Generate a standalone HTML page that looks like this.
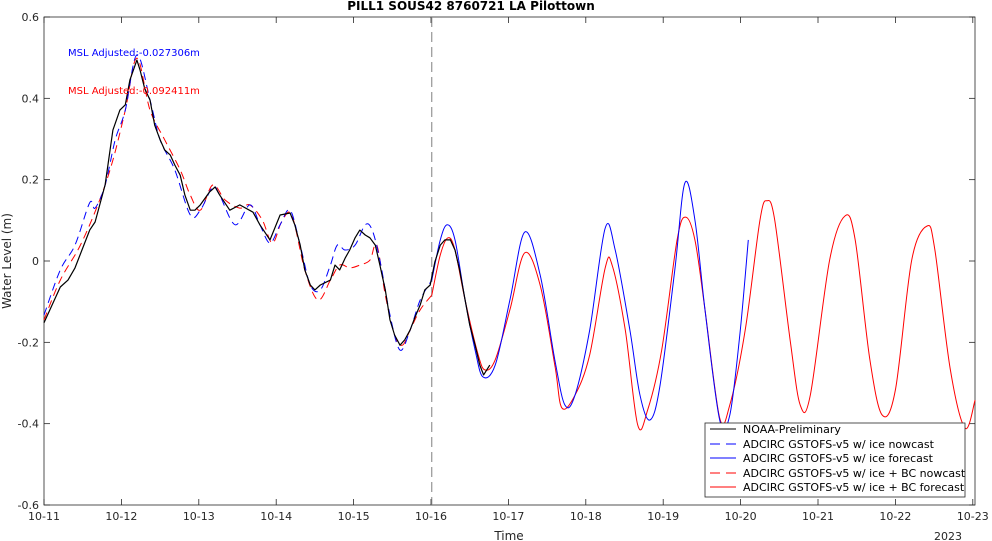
<!DOCTYPE html>
<html><head><meta charset="utf-8"><style>
body{margin:0;background:#fff;}
svg{display:block;font-family:"Liberation Sans","DejaVu Sans",sans-serif;}
</style></head><body>
<svg id="chart" width="992" height="541" viewBox="0 0 992 541" xmlns="http://www.w3.org/2000/svg">
<rect x="0" y="0" width="992" height="541" fill="#fff"/>
<text x="471" y="10" text-anchor="middle" font-size="12" font-weight="bold" font-family="DejaVu Sans, sans-serif">PILL1 SOUS42 8760721 LA Pilottown</text>
<g id="axes"></g>
<g id="series"></g>
<text x="68" y="56" font-size="10" fill="#0000ff" font-family="DejaVu Sans, sans-serif">MSL Adjusted:-0.027306m</text>
<text x="68" y="94" font-size="10" fill="#ff0000" font-family="DejaVu Sans, sans-serif">MSL Adjusted:-0.092411m</text>
<text transform="translate(11,261) rotate(-90)" text-anchor="middle" font-size="12" fill="#262626" font-family="DejaVu Sans, sans-serif">Water Level (m)</text>
<text x="509" y="540" text-anchor="middle" font-size="12" fill="#262626" font-family="DejaVu Sans, sans-serif">Time</text>
<text x="948" y="540" text-anchor="middle" font-size="11" fill="#262626" font-family="DejaVu Sans, sans-serif">2023</text>
<g>
<rect x="705" y="423" width="260" height="74" fill="#fff" stroke="#262626" stroke-width="0.8"/>
<line x1="710" y1="429" x2="736" y2="429" stroke="#000"/>
<text x="743" y="433" font-size="11" fill="#000" font-family="DejaVu Sans, sans-serif">NOAA-Preliminary</text>
<line x1="710" y1="444" x2="736" y2="444" stroke="#0000ff" stroke-dasharray="10,6"/>
<text x="743" y="448" font-size="11" fill="#000" font-family="DejaVu Sans, sans-serif">ADCIRC GSTOFS-v5 w/ ice nowcast</text>
<line x1="710" y1="458" x2="736" y2="458" stroke="#0000ff"/>
<text x="743" y="462" font-size="11" fill="#000" font-family="DejaVu Sans, sans-serif">ADCIRC GSTOFS-v5 w/ ice forecast</text>
<line x1="710" y1="473" x2="736" y2="473" stroke="#ff0000" stroke-dasharray="10,6"/>
<text x="743" y="477" font-size="11" fill="#000" font-family="DejaVu Sans, sans-serif">ADCIRC GSTOFS-v5 w/ ice + BC nowcast</text>
<line x1="710" y1="487" x2="736" y2="487" stroke="#ff0000"/>
<text x="743" y="491" font-size="11" fill="#000" font-family="DejaVu Sans, sans-serif">ADCIRC GSTOFS-v5 w/ ice + BC forecast</text>
</g>
</svg>
<script>
const xTickLabels=["10-11","10-12","10-13","10-14","10-15","10-16","10-17","10-18","10-19","10-20","10-21","10-22","10-23"];
const yTicks=[-0.6,-0.4,-0.2,0,0.2,0.4,0.6];
const nowcastDay=5.01;
const obsT=[0,0.21,0.31,0.40,0.59,0.66,0.79,0.89,0.98,1.05,1.11,1.20,1.24,1.30,1.37,1.43,1.50,1.56,1.63,1.69,1.76,1.82,1.89,1.95,2.02,2.14,2.21,2.27,2.40,2.53,2.70,2.79,2.92,3.05,3.18,3.24,3.31,3.37,3.44,3.50,3.57,3.70,3.76,3.82,3.89,3.95,4.02,4.08,4.15,4.21,4.28,4.34,4.41,4.47,4.53,4.60,4.66,4.73,4.79,4.86,4.92,4.99,5.05,5.12,5.18,5.25,5.31,5.37,5.44,5.50,5.57,5.63,5.68,5.76];
const obsV=[-0.152,-0.064,-0.047,-0.017,0.076,0.096,0.187,0.322,0.371,0.384,0.445,0.494,0.470,0.425,0.396,0.334,0.298,0.273,0.261,0.236,0.211,0.162,0.125,0.125,0.138,0.170,0.182,0.162,0.125,0.138,0.120,0.089,0.052,0.113,0.118,0.089,0.039,-0.022,-0.059,-0.071,-0.059,-0.047,-0.010,-0.022,0.007,0.027,0.057,0.076,0.064,0.057,0.039,-0.010,-0.071,-0.145,-0.182,-0.207,-0.194,-0.170,-0.140,-0.108,-0.071,-0.059,-0.002,0.039,0.052,0.052,0.027,-0.022,-0.096,-0.157,-0.207,-0.256,-0.280,-0.256];
const blueNowT=[0,0.21,0.40,0.59,0.66,0.79,0.92,1.05,1.20,1.37,1.50,1.69,1.89,2.02,2.18,2.27,2.47,2.66,2.79,2.92,3.05,3.18,3.31,3.44,3.57,3.70,3.79,3.89,4.02,4.15,4.24,4.34,4.47,4.60,4.73,4.86,5.01];
const blueNowV=[-0.133,-0.022,0.039,0.143,0.130,0.187,0.298,0.371,0.507,0.396,0.298,0.224,0.113,0.125,0.182,0.162,0.089,0.138,0.089,0.044,0.089,0.125,0.039,-0.059,-0.071,-0.010,0.039,0.027,0.039,0.089,0.076,0.002,-0.133,-0.219,-0.170,-0.096,-0.047];
const blueFcT=[5.01,5.12,5.21,5.31,5.44,5.57,5.67,5.83,6.02,6.21,6.41,6.60,6.73,6.86,7.05,7.25,7.38,7.57,7.70,7.83,7.96,8.15,8.28,8.41,8.54,8.73,8.86,8.99,9.10];
const blueFcV=[-0.047,0.052,0.089,0.052,-0.096,-0.219,-0.285,-0.256,-0.096,0.071,-0.034,-0.243,-0.354,-0.330,-0.170,0.081,0.027,-0.170,-0.330,-0.391,-0.305,-0.022,0.192,0.101,-0.120,-0.391,-0.379,-0.182,0.052];
const redNowT=[0,0.21,0.47,0.72,0.89,1.05,1.20,1.37,1.56,1.76,1.89,2.02,2.18,2.34,2.53,2.66,2.82,2.95,3.07,3.20,3.37,3.54,3.70,3.82,3.95,4.08,4.21,4.30,4.41,4.53,4.63,4.73,4.86,5.01];
const redNowV=[-0.145,-0.047,0.039,0.150,0.248,0.371,0.499,0.371,0.298,0.224,0.162,0.125,0.187,0.150,0.130,0.138,0.101,0.044,0.096,0.113,-0.022,-0.096,-0.047,-0.010,-0.017,-0.010,0.002,0.039,-0.084,-0.182,-0.207,-0.170,-0.120,-0.084];
const redFcT=[5.01,5.12,5.22,5.31,5.44,5.61,5.70,5.83,6.02,6.21,6.41,6.60,6.69,6.86,7.05,7.25,7.34,7.51,7.67,7.80,7.98,8.18,8.29,8.41,8.54,8.73,8.86,9.06,9.25,9.34,9.44,9.64,9.77,9.90,10.15,10.35,10.48,10.67,10.83,11.00,11.21,11.41,11.51,11.71,11.90,12.03];
const redFcV=[-0.084,0.015,0.057,0.027,-0.096,-0.231,-0.268,-0.243,-0.120,0.020,-0.059,-0.256,-0.361,-0.330,-0.231,-0.017,-0.010,-0.170,-0.403,-0.366,-0.219,0.052,0.108,0.052,-0.120,-0.386,-0.354,-0.170,0.101,0.148,0.101,-0.194,-0.354,-0.330,0.002,0.111,0.052,-0.243,-0.379,-0.317,0.002,0.086,0.027,-0.268,-0.411,-0.342];

const NS="http://www.w3.org/2000/svg";
const L=44,R=975,T=17,B=505,dayW=77.4;
const xs=d=>L+d*dayW;
const ys=v=>T+(0.6-v)/1.2*(B-T);
function mk(tag,attrs,parent){const e=document.createElementNS(NS,tag);for(const k in attrs)e.setAttribute(k,attrs[k]);parent.appendChild(e);return e;}
const axes=document.getElementById('axes'),series=document.getElementById('series');
const box=mk('rect',{x:L,y:T,width:R-L,height:B-T,fill:'none',stroke:'#262626','stroke-width':0.8},axes);


xTickLabels.forEach((lab,i)=>{const x=xs(i);
 mk('line',{x1:x,y1:B,x2:x,y2:B-6,stroke:'#262626','stroke-width':0.8},axes);
 mk('line',{x1:x,y1:T,x2:x,y2:T+6,stroke:'#262626','stroke-width':0.8},axes);
 const t=mk('text',{x:x,y:B+15,'text-anchor':'middle','font-size':11,fill:'#262626','font-family':'DejaVu Sans, sans-serif'},axes);t.textContent=lab;
 
 
});
yTicks.forEach(v=>{const y=ys(v);
 mk('line',{x1:L,y1:y,x2:L+6,y2:y,stroke:'#262626','stroke-width':0.8},axes);
 mk('line',{x1:R,y1:y,x2:R-6,y2:y,stroke:'#262626','stroke-width':0.8},axes);
 const t=mk('text',{x:L-5,y:y+4,'text-anchor':'end','font-size':11,fill:'#262626','font-family':'DejaVu Sans, sans-serif'},axes);t.textContent=(Math.abs(v)<1e-9?'0':String(v));
 
 
});
const vline=mk('line',{x1:xs(nowcastDay),y1:T,x2:xs(nowcastDay),y2:B,stroke:'#808080','stroke-width':1,'stroke-dasharray':'10,5'},axes);


function spline(T2,V){const p=T2.map((t,i)=>[xs(t),ys(V[i])]);let d='M'+p[0][0].toFixed(1)+','+p[0][1].toFixed(1);
 for(let i=0;i<p.length-1;i++){const p0=p[i-1]||p[i],p1=p[i],p2=p[i+1],p3=p[i+2]||p2;
  const c1=[p1[0]+(p2[0]-p0[0])/6,p1[1]+(p2[1]-p0[1])/6],c2=[p2[0]-(p3[0]-p1[0])/6,p2[1]-(p3[1]-p1[1])/6];
  d+='C'+c1.map(n=>n.toFixed(1))+' '+c2.map(n=>n.toFixed(1))+' '+p2.map(n=>n.toFixed(1));}
 return d;}
function poly(T2,V){return T2.map((t,i)=>(i?'L':'M')+xs(t).toFixed(1)+','+ys(V[i]).toFixed(1)).join('');}
let e;
e=mk('path',{d:spline(redNowT,redNowV),fill:'none',stroke:'#ff0000','stroke-width':1,'stroke-dasharray':'8,5'},series);


e=mk('path',{d:spline(redFcT,redFcV),fill:'none',stroke:'#ff0000','stroke-width':1},series);


e=mk('path',{d:spline(blueNowT,blueNowV),fill:'none',stroke:'#0000ff','stroke-width':1,'stroke-dasharray':'8,5'},series);


e=mk('path',{d:spline(blueFcT,blueFcV),fill:'none',stroke:'#0000ff','stroke-width':1},series);


e=mk('path',{d:poly(obsT,obsV),fill:'none',stroke:'#000','stroke-width':1.2,'stroke-linejoin':'round'},series);


</script>
</body></html>
